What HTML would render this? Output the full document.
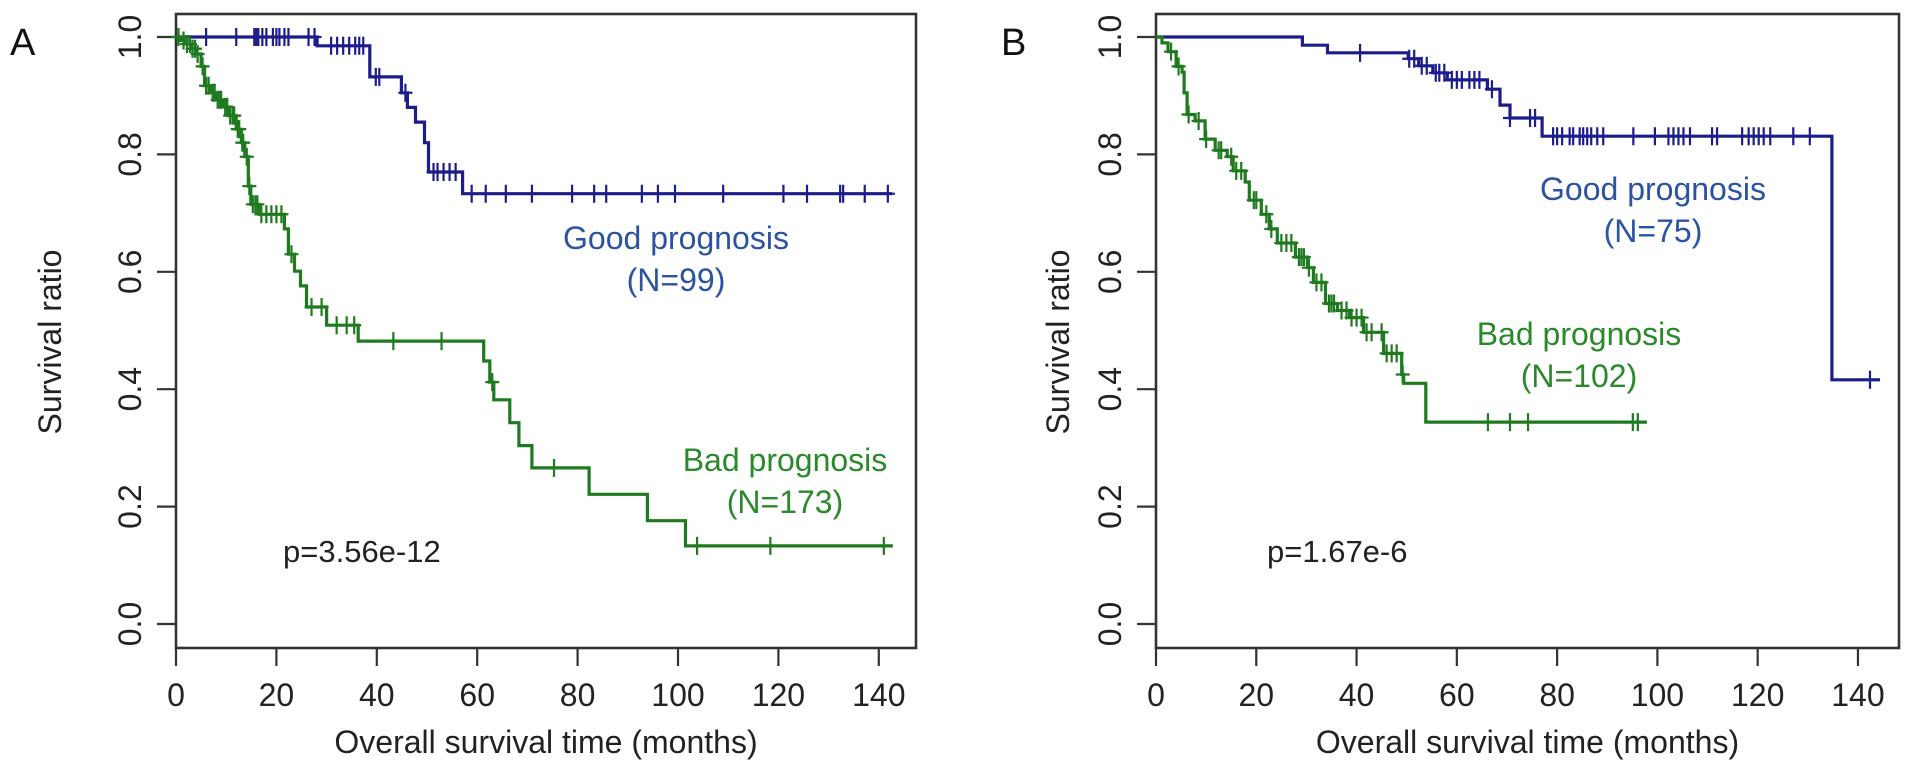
<!DOCTYPE html>
<html><head><meta charset="utf-8"><style>
html,body{margin:0;padding:0;background:#fff;}
svg{display:block;font-family:"Liberation Sans",Arial,sans-serif;}
</style></head><body>
<svg id="fig" width="1913" height="773" viewBox="0 0 1913 773" xmlns="http://www.w3.org/2000/svg"></svg>
<script>
// ---------- DATA ----------
const xTicks = [0,20,40,60,80,100,120,140];
const yTicks = [0.0,0.2,0.4,0.6,0.8,1.0];
const yTickLabels = ["0.0","0.2","0.4","0.6","0.8","1.0"];

// Panel A
const aGoodTimes = [28.1,38.6,44.9,46.1,47.7,49.5,50.3,57.1];
const aGoodSurv  = [0.985,0.932,0.905,0.88,0.855,0.82,0.77,0.733];
const aGoodEnd = 142.6;
const aGoodCens = [6.0,12.0,15.6,16.0,16.4,17.2,18.0,19.3,20.0,20.6,21.6,22.4,26.4,27.6,30.9,32.1,33.3,34.5,35.7,36.5,37.3,39.8,40.5,45.7,51.3,52.1,53.3,54.5,55.7,58.9,61.7,65.7,70.9,78.9,83.3,85.7,92.8,96,99.4,109,121,125.7,132.3,132.9,137.2,141.8];
const aBadTimes = [1,2,3,4,5,5.7,7,8,9.3,10.5,12,13,13.7,14.4,14.9,16.5,21.6,22.4,23.6,24.8,26.0,30.0,36.3,61.3,62.5,63.3,66.5,68.3,70.9,82.3,93.9,101.5];
const aBadSurv  = [0.994,0.988,0.98,0.971,0.95,0.917,0.905,0.893,0.881,0.866,0.843,0.82,0.796,0.746,0.715,0.698,0.673,0.63,0.601,0.576,0.54,0.509,0.482,0.448,0.412,0.382,0.343,0.304,0.266,0.221,0.176,0.133];
const aBadEnd = 142.8;
const aBadCens = [0.5,1.5,2.2,2.8,3.3,3.8,4.3,5.3,6,6.5,7.3,7.7,8.3,8.7,9.0,9.8,10.2,10.8,11.3,11.6,12.3,12.6,13.2,13.4,14.1,14.6,15.3,15.8,16.2,17,18,19,20,21,23,27,29,32,34,35.5,43.3,52.9,63,75.3,103.8,118.4,141];

// Panel B
const bGoodTimes = [29.2,34.2,50.3,52.4,55.2,58.1,66.1,68.6,70.6,77.0,134.8];
const bGoodSurv  = [0.986,0.973,0.963,0.951,0.939,0.927,0.911,0.884,0.862,0.831,0.416];
const bGoodEnd = 144.4;
const bGoodCens = [40.7,50.5,51.5,53,54,55.8,56.5,57.5,59,60,61,62.5,63.5,64.5,67,70.6,74.6,75.6,79.2,80,81,82.5,83.2,84.5,85.2,86,86.8,88,89.2,95.2,99.5,102.2,103.2,104.2,105.2,106.5,110.9,111.9,116.9,118.2,119.2,120.2,121.2,122.5,127.1,130.4,142.4];
const bBadTimes = [1.2,2.4,4.0,5.2,5.6,6.2,7.8,9.8,11.8,14.2,15.4,17.8,18.6,21,22.6,24.2,27.8,30.2,31.4,33.8,36.2,38.6,41.4,45.4,49,49.4,53.8];
const bBadSurv  = [0.99,0.975,0.95,0.94,0.905,0.868,0.857,0.826,0.807,0.796,0.772,0.753,0.722,0.698,0.673,0.649,0.625,0.607,0.582,0.546,0.534,0.522,0.497,0.461,0.425,0.41,0.344];
const bBadEnd = 97.9;
const bBadCens = [3,4.5,6.5,8.5,10,12.5,13,15,16,17,19.5,20,22,23,25,26,27,28.5,29,29.5,30.5,32,33,34.5,35,35.5,37,38,39,40,41,42,43,45,46,47,48,49.2,66.2,70.6,74.2,95.1,96.1];

// ---------- DRAWING ----------
const NS="http://www.w3.org/2000/svg";
const svg=document.getElementById('fig');
function mk(tag,attrs,parent){const e=document.createElementNS(NS,tag);for(const k in attrs)e.setAttribute(k,attrs[k]);(parent||svg).appendChild(e);return e;}
function yScale(v){return 624-v*587;}
const BLUE="#1c1c8a", GREEN="#1f7a1f", BLUETXT="#2b52a3", GREENTXT="#2a8a2a", AX="#333";

function survAt(times,surv,t){let s=1;for(let i=0;i<times.length;i++){if(times[i]<=t)s=surv[i];}return s;}

function drawCurve(g,xs,times,surv,end,cens,color,name){
  let d="M"+xs(0)+","+yScale(1);
  for(let i=0;i<times.length;i++){d+=" H"+xs(times[i]).toFixed(1)+" V"+yScale(surv[i]).toFixed(1);}
  d+=" H"+xs(end).toFixed(1);
  const p=mk('path',{d:d,fill:'none',stroke:color,'stroke-width':3.2},g);
  
  
  cens.forEach(t=>{
    const cx=xs(t), cy=yScale(survAt(times,surv,t));
    const m=mk('path',{d:`M${cx-7},${cy} H${cx+7} M${cx},${cy-9} V${cy+9}`,stroke:color,'stroke-width':2.2,fill:'none'},g);
    
    
  });
}

function panel(opts){
  const g=mk('g',{});
  
  
  const xs=m=>opts.x0+m*opts.xk;
  const box=mk('rect',{x:opts.x0,y:14,width:opts.right-opts.x0,height:634,fill:'none',stroke:AX,'stroke-width':2.6},g);
  
  
  xTicks.forEach(t=>{
    const x=xs(t);
    const l=mk('line',{x1:x,y1:648,x2:x,y2:666,stroke:AX,'stroke-width':2.2},g);
    
    
    const tx=mk('text',{x:x,y:706,'font-size':32,'text-anchor':'middle',fill:'#222'},g);
    tx.textContent=t;
    
    
  });
  yTicks.forEach((v,i)=>{
    const y=yScale(v);
    const l=mk('line',{x1:opts.x0-19,y1:y,x2:opts.x0,y2:y,stroke:AX,'stroke-width':2.2},g);
    
    
    const tx=mk('text',{x:0,y:0,'font-size':32,'text-anchor':'middle',fill:'#222',transform:`translate(${opts.x0-35},${y}) rotate(-90)`},g);
    tx.textContent=yTickLabels[i];
    
    
  });
  const xt=mk('text',{x:(opts.x0+opts.right)/2,y:753,'font-size':32,'text-anchor':'middle',fill:'#222'},g);
  xt.textContent="Overall survival time (months)";
  
  
  const yt=mk('text',{x:0,y:0,'font-size':32,'text-anchor':'middle',fill:'#222',transform:`translate(${opts.ytx},342) rotate(-90)`},g);
  yt.textContent="Survival ratio";
  
  
  const lt=mk('text',{x:opts.letterX,y:55,'font-size':38,fill:'#111'},g);
  lt.textContent=opts.letter;
  
  

  drawCurve(g,xs,opts.goodT,opts.goodS,opts.goodEnd,opts.goodC,BLUE,'good-prognosis');
  drawCurve(g,xs,opts.badT,opts.badS,opts.badEnd,opts.badC,GREEN,'bad-prognosis');

  const labels=[
    [opts.goodLbl[0],opts.goodLbl[1],"Good prognosis",BLUETXT,'good-prognosis-label'],
    [opts.goodLbl[0],opts.goodLbl[1]+42,opts.goodN,BLUETXT,'good-prognosis-n'],
    [opts.badLbl[0],opts.badLbl[1],"Bad prognosis",GREENTXT,'bad-prognosis-label'],
    [opts.badLbl[0],opts.badLbl[1]+42,opts.badN,GREENTXT,'bad-prognosis-n'],
  ];
  labels.forEach(L=>{
    const t=mk('text',{x:L[0],y:L[1]+11,'font-size':32,'text-anchor':'middle',fill:L[3]},g);
    t.textContent=L[2];
    
    
  });
  const pv=mk('text',{x:opts.pX,y:562,'font-size':31,fill:'#222'},g);
  pv.textContent=opts.p;
  
  
}

panel({id:'panel-a',letter:'A',letterX:10,x0:176,xk:5.02,right:916,ytx:61,
  goodT:aGoodTimes,goodS:aGoodSurv,goodEnd:aGoodEnd,goodC:aGoodCens,
  badT:aBadTimes,badS:aBadSurv,badEnd:aBadEnd,badC:aBadCens,
  goodLbl:[676,238],goodN:"(N=99)",badLbl:[785,460],badN:"(N=173)",
  pX:283,p:"p=3.56e-12"});
panel({id:'panel-b',letter:'B',letterX:1001,x0:1156,xk:5.014,right:1899,ytx:1069,
  goodT:bGoodTimes,goodS:bGoodSurv,goodEnd:bGoodEnd,goodC:bGoodCens,
  badT:bBadTimes,badS:bBadSurv,badEnd:bBadEnd,badC:bBadCens,
  goodLbl:[1653,189],goodN:"(N=75)",badLbl:[1579,334],badN:"(N=102)",
  pX:1267,p:"p=1.67e-6"});
</script>
</body></html>
